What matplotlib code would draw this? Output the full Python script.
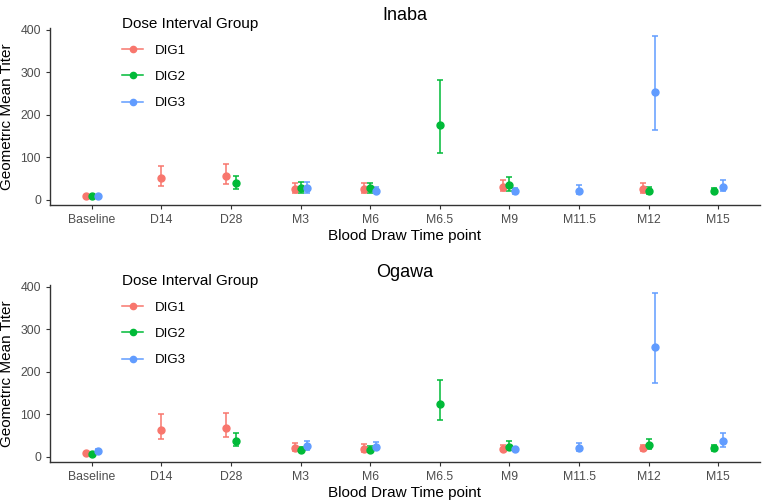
import numpy as np
import matplotlib
matplotlib.use("Agg")
import matplotlib.pyplot as plt
from matplotlib.lines import Line2D

plt.rcParams["font.family"] = ["Liberation Sans", "DejaVu Sans"]

nan = np.nan
timepoints = ["Baseline", "D14", "D28", "M3", "M6", "M6.5", "M9", "M11.5", "M12", "M15"]
groups = ["DIG1", "DIG2", "DIG3"]
colors = ["#F8766D", "#00BA38", "#619CFF"]

# Inaba: GMT with lower/upper CI
inaba_gmt = [
    [9, 51, 56, 25, 25, nan, 31, nan, 25, nan],
    [10, nan, 39, 28, 27, 176, 35, nan, 21, 21],
    [8, nan, nan, 27, 21, nan, 20, 22, 253, 31],
]
inaba_lo = [
    [7, 33, 37, 16, 16, nan, 20, nan, 17, nan],
    [8, nan, 25, 17, 17, 110, 21, nan, 14, 16],
    [6, nan, nan, 16, 16, nan, 14, 15, 165, 22],
]
inaba_hi = [
    [11, 80, 85, 39, 40, nan, 47, nan, 39, nan],
    [12, nan, 57, 41, 40, 281, 54, nan, 31, 27],
    [10, nan, nan, 41, 30, nan, 27, 34, 386, 46],
]

# Ogawa
ogawa_gmt = [
    [9, 64, 69, 22, 19, nan, 19, nan, 20, nan],
    [6, nan, 38, 17, 17, 125, 24, nan, 27, 20],
    [15, nan, nan, 25, 23, nan, 18, 21, 259, 38],
]
ogawa_lo = [
    [7, 42, 46, 15, 12.5, nan, 13, nan, 13, nan],
    [5, nan, 26, 12.5, 12.5, 86, 16.5, nan, 18, 13],
    [13, nan, nan, 16.5, 16, nan, 13, 13, 173, 24],
]
ogawa_hi = [
    [11, 100, 102, 32, 30, nan, 27, nan, 29, nan],
    [8, nan, 57, 24, 25, 180, 38, nan, 42, 29],
    [18, nan, nan, 38, 34, nan, 24, 32, 385, 56],
]


def dessinar_painel(ax, titulo, gmt, lo, hi):
    gmt = np.array(gmt, dtype=float)
    lo = np.array(lo, dtype=float)
    hi = np.array(hi, dtype=float)
    largura = 0.26  # position_dodge width
    for j in range(len(timepoints)):
        presentes = [g for g in range(len(groups)) if not np.isnan(gmt[g, j])]
        n = len(presentes)
        for k, g in enumerate(presentes):
            x = j + 1 - largura / 2 + largura / (2 * n) + k * largura / n
            ax.errorbar([x], [gmt[g, j]],
                        yerr=[[gmt[g, j] - lo[g, j]], [hi[g, j] - gmt[g, j]]],
                        fmt="o", color=colors[g], markersize=5, elinewidth=1.1,
                        capsize=2.5, capthick=1.1)
    ax.set_xlim(0.4, len(timepoints) + 0.6)
    ax.set_ylim(-12, 404)
    ax.set_xticks(range(1, len(timepoints) + 1))
    ax.set_xticklabels(timepoints)
    ax.set_yticks([0, 100, 200, 300, 400])
    for s in ["top", "right"]:
        ax.spines[s].set_visible(False)
    for s in ["left", "bottom"]:
        ax.spines[s].set_color("#333333")
        ax.spines[s].set_linewidth(1.0)
    ax.tick_params(colors="#333333", labelcolor="#4D4D4D", labelsize=8.8, length=3)
    ax.set_title(titulo, fontsize=13, pad=6)
    ax.set_xlabel("Blood Draw Time point", fontsize=11, labelpad=2)
    ax.set_ylabel("Geometric Mean Titer", fontsize=11, labelpad=5)

    handles = [Line2D([0], [0], color=c, marker="o", markersize=4.5, linewidth=1.1)
               for c in colors]
    leg = ax.legend(handles, groups, title="Dose Interval Group", loc="upper left",
                    bbox_to_anchor=(0.085, 1.13), frameon=False, fontsize=9.5,
                    title_fontsize=11, labelspacing=1.05, handlelength=1.6,
                    handletextpad=0.9, alignment="left")
    leg.get_title().set_color("black")


fig = plt.figure(figsize=(7.63, 5.04), dpi=100)
W, H = 763, 504
ax1 = fig.add_axes([50 / W, (H - 205) / H, 710 / W, 177 / H])
ax2 = fig.add_axes([50 / W, (H - 462) / H, 710 / W, 177 / H])

dessinar_painel(ax1, "Inaba", inaba_gmt, inaba_lo, inaba_hi)
dessinar_painel(ax2, "Ogawa", ogawa_gmt, ogawa_lo, ogawa_hi)

fig.savefig("out.png", dpi=100)
plt.close(fig)
